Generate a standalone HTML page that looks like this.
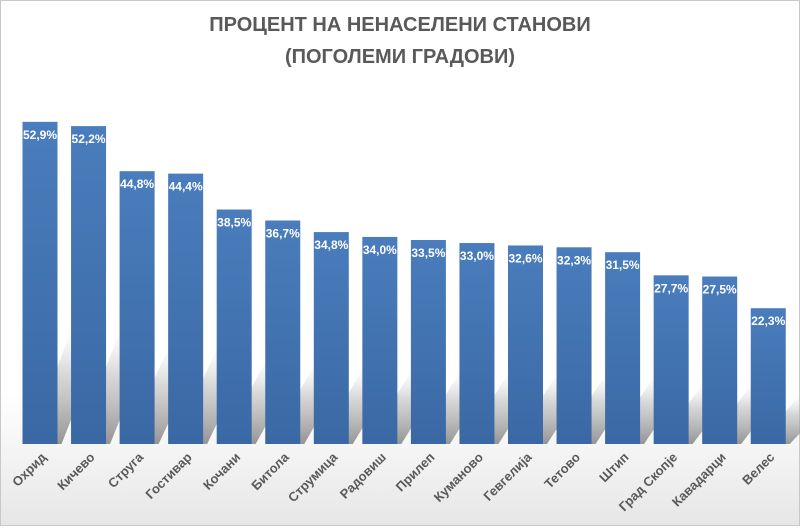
<!DOCTYPE html>
<html><head><meta charset="utf-8"><style>
body{margin:0;background:#fff}
</style></head><body>
<svg width="800" height="526" xmlns="http://www.w3.org/2000/svg" font-family="Liberation Sans, DejaVu Sans, sans-serif">
<defs>
<linearGradient id="bg" x1="0" y1="0" x2="0" y2="1"><stop offset="0.75" stop-color="#ffffff"/><stop offset="1" stop-color="#e6e6e6"/></linearGradient>
<linearGradient id="sh" x1="0" y1="1" x2="0" y2="0"><stop offset="0" stop-color="#8a8a8a" stop-opacity="0.9"/><stop offset="0.6" stop-color="#b0b0b0" stop-opacity="0.5"/><stop offset="1" stop-color="#d0d0d0" stop-opacity="0"/></linearGradient>
<linearGradient id="bar" x1="0" y1="0" x2="0" y2="1"><stop offset="0" stop-color="#4a7dbd"/><stop offset="1" stop-color="#3a68a4"/></linearGradient>
</defs>
<rect x="0.5" y="0.5" width="799" height="525" fill="url(#bg)" stroke="#c8c8c8"/>
<text x="400" y="31" text-anchor="middle" font-size="20" font-weight="bold" fill="#595959">ПРОЦЕНТ НА НЕНАСЕЛЕНИ СТАНОВИ</text>
<text x="400" y="63" text-anchor="middle" font-size="20" font-weight="bold" fill="#595959">(ПОГОЛЕМИ ГРАДОВИ)</text>
<g id="g"></g>
</svg>
<script>
var d=[["Охрид",52.9],["Кичево",52.2],["Струга",44.8],["Гостивар",44.4],["Кочани",38.5],["Битола",36.7],["Струмица",34.8],["Радовиш",34.0],["Прилеп",33.5],["Куманово",33.0],["Гевгелија",32.6],["Тетово",32.3],["Штип",31.5],["Град Скопје",27.7],["Кавадарци",27.5],["Велес",22.3]];
var g=document.getElementById('g'),s='',B=444,k=6.09,w=35;
d.forEach(function(e,i){var x=22.5+i*48.55,h=e[1]*k,L=h*0.36;
s+='<polygon points="'+(x+4)+','+B+' '+(x+w+4)+','+B+' '+(x+w+50)+','+(B-L)+' '+(x+50)+','+(B-L)+'" fill="url(#sh)"/>';});
d.forEach(function(e,i){var x=22.5+i*48.55,h=e[1]*k,cx=x+w/2;
s+='<rect x="'+x+'" y="'+(B-h)+'" width="'+w+'" height="'+h+'" fill="url(#bar)"/>';
s+='<text x="'+cx+'" y="'+(B-h+17)+'" text-anchor="middle" font-size="12" font-weight="bold" fill="#fff">'+e[1].toFixed(1).replace('.',',')+'%</text>';
s+='<text transform="translate('+(cx+7)+',458) rotate(-45)" text-anchor="end" font-size="13" font-weight="bold" fill="#595959">'+e[0]+'</text>';});
g.innerHTML=s;
</script>
</body></html>
